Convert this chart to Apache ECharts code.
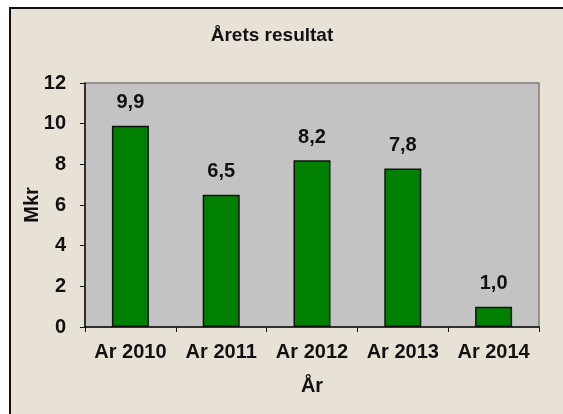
<!DOCTYPE html>
<html>
<head>
<meta charset="utf-8">
<script src="https://cdn.jsdelivr.net/npm/echarts@6/dist/echarts.min.js"></script>
<style>
  html, body { margin: 0; background: #fff; overflow: hidden; width: 563px; height: 414px; }
  #frame { position: absolute; left: 9px; top: 7px; width: 580px; height: 440px;
           border-top: 2px solid #111; border-left: 2px solid #111; background: #e8e2d6; }
  #main { position: absolute; left: 0; top: 0; width: 563px; height: 414px; }
</style>
</head>
<body>
<div id="frame"></div>
<div id="main"></div>
<script>
// data
var years = ['Ar 2010', 'Ar 2011', 'Ar 2012', 'Ar 2013', 'Ar 2014'];
var resultat = [9.9, 6.5, 8.2, 7.8, 1.0];

var font = 'Arial, "Liberation Sans", sans-serif';
var txt = { fontFamily: font, fontSize: 20, fontWeight: 'bold', color: '#111' };

var myChart = echarts.init(document.getElementById('main'));
myChart.setOption({
    backgroundColor: 'transparent',
    animation: false,
    title: {
        text: 'Årets resultat',
        left: 267,
        top: 21,
        textAlign: 'center',
        textStyle: { fontFamily: font, fontSize: 19, fontWeight: 'bold', color: '#111' }
    },
    grid: {
        left: 85, top: 83, right: 24, bottom: 87,
        show: true,
        backgroundColor: '#c3c3c3',
        borderColor: '#7d7d7d',
        borderWidth: 1.5
    },
    xAxis: {
        type: 'category',
        data: years,
        name: 'År',
        nameLocation: 'middle',
        nameGap: 49,
        nameMoveOverlap: false,
        nameTextStyle: txt,
        axisLine: { lineStyle: { color: '#111', width: 1.5 } },
        axisTick: { show: true, length: 5, lineStyle: { color: '#111' } },
        axisLabel: Object.assign({ margin: 15, interval: 0, hideOverlap: false }, txt)
    },
    yAxis: {
        type: 'value',
        min: 0,
        max: 12,
        interval: 2,
        name: 'Mkr',
        nameLocation: 'middle',
        nameGap: 43,
        nameMoveOverlap: false,
        nameTextStyle: txt,
        axisLine: { show: true, lineStyle: { color: '#111', width: 1.5 } },
        axisTick: { show: true, length: 5, lineStyle: { color: '#111' } },
        splitLine: { show: false },
        axisLabel: Object.assign({ margin: 19 }, txt)
    },
    series: [{
        type: 'bar',
        data: resultat,
        barWidth: 37,
        itemStyle: { color: '#008000', borderColor: '#111', borderWidth: 1.5 },
        label: Object.assign({
            show: true,
            position: 'top',
            distance: 13,
            formatter: function (p) { return p.value.toFixed(1).replace('.', ','); }
        }, txt)
    }]
});
</script>
</body>
</html>
